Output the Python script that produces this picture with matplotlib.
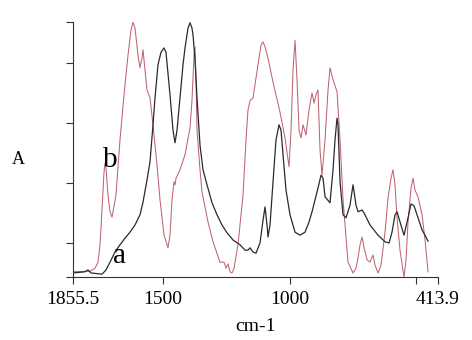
import matplotlib
matplotlib.use("Agg")
import matplotlib.pyplot as plt

# ---- data (wavenumber cm-1, absorbance) ----
wn_b = [1855.5, 1788.4, 1768.6, 1756.8, 1748.9, 1741.0, 1733.1, 1729.1, 1725.2, 1717.3,
        1709.4, 1701.4, 1685.7, 1669.9, 1654.0, 1638.3, 1626.4, 1618.5, 1610.6, 1598.8,
        1590.9, 1583.0, 1579.0, 1571.1, 1563.2, 1551.4, 1539.5, 1523.7, 1511.9, 1496.0,
        1480.3, 1472.4, 1464.4, 1456.6, 1452.6, 1448.6, 1432.9, 1413.1, 1393.3, 1385.5,
        1377.5, 1373.6, 1369.6, 1365.7, 1353.9, 1346.0, 1322.3, 1302.5, 1274.9, 1259.1,
        1251.2, 1243.2, 1235.4, 1227.4, 1219.5, 1203.8, 1184.0, 1172.2, 1164.3, 1156.4,
        1144.5, 1124.8, 1112.9, 1105.0, 1097.1, 1085.3, 1065.5, 1037.9, 1018.1, 1002.3,
        994.4, 986.5, 978.6, 970.7, 962.8, 954.9, 947.0, 935.2, 923.3, 911.5,
        903.6, 895.7, 887.8, 879.9, 871.9, 860.1, 848.3, 840.4, 828.5, 812.7,
        800.8, 789.0, 769.3, 749.5, 737.7, 729.8, 721.9, 713.9, 706.0, 694.2,
        682.4, 670.5, 662.6, 650.8, 638.9, 623.1, 611.3, 599.4, 591.5, 583.6,
        575.7, 563.9, 548.1, 540.2, 532.2, 520.4, 512.5, 504.6, 492.8, 477.0,
        465.1, 453.3]
abs_b = [0.052, 0.053, 0.058, 0.068, 0.097, 0.155, 0.218, 0.233, 0.225, 0.180,
         0.152, 0.143, 0.180, 0.272, 0.347, 0.413, 0.455, 0.468, 0.458, 0.413,
         0.392, 0.408, 0.422, 0.388, 0.355, 0.342, 0.297, 0.230, 0.172, 0.113,
         0.092, 0.113, 0.172, 0.202, 0.197, 0.208, 0.222, 0.247, 0.292, 0.338,
         0.413, 0.427, 0.372, 0.288, 0.222, 0.185, 0.135, 0.102, 0.068, 0.068,
         0.058, 0.065, 0.052, 0.050, 0.058, 0.097, 0.180, 0.272, 0.322, 0.337,
         0.342, 0.397, 0.430, 0.435, 0.427, 0.408, 0.368, 0.318, 0.275, 0.227,
         0.288, 0.388, 0.438, 0.372, 0.288, 0.275, 0.297, 0.280, 0.322, 0.350,
         0.333, 0.347, 0.355, 0.255, 0.213, 0.272, 0.355, 0.392, 0.372, 0.352,
         0.272, 0.172, 0.068, 0.050, 0.058, 0.075, 0.097, 0.110, 0.092, 0.072,
         0.068, 0.080, 0.063, 0.050, 0.063, 0.118, 0.175, 0.208, 0.222, 0.197,
         0.142, 0.088, 0.043, 0.072, 0.135, 0.192, 0.208, 0.188, 0.177, 0.147,
         0.105, 0.052]

wn_a = [1855.5, 1808.1, 1796.3, 1784.4, 1741.0, 1725.2, 1709.4, 1689.6, 1669.9, 1650.1,
        1630.4, 1610.6, 1590.9, 1579.0, 1563.2, 1551.4, 1539.5, 1531.6, 1519.8, 1507.9,
        1496.0, 1488.2, 1472.4, 1460.5, 1452.6, 1444.7, 1432.9, 1421.0, 1413.1, 1401.3,
        1393.3, 1385.5, 1381.5, 1373.6, 1365.7, 1353.9, 1342.0, 1326.2, 1306.5, 1286.7,
        1267.0, 1247.2, 1223.5, 1195.9, 1176.1, 1164.3, 1156.4, 1144.5, 1132.7, 1116.9,
        1105.0, 1097.1, 1089.2, 1085.3, 1077.4, 1065.5, 1053.7, 1041.8, 1033.9, 1026.0,
        1014.2, 998.4, 978.6, 958.9, 939.1, 923.3, 911.5, 891.7, 875.9, 868.0,
        860.1, 840.4, 828.5, 820.6, 812.7, 808.8, 800.8, 789.0, 777.2, 761.4,
        749.5, 737.7, 729.8, 713.9, 706.0, 682.4, 650.8, 623.1, 607.3, 595.5,
        583.6, 575.7, 563.9, 548.1, 532.2, 520.4, 508.6, 492.8, 477.0, 465.1,
        453.3]
abs_a = [0.050, 0.052, 0.055, 0.050, 0.048, 0.055, 0.068, 0.085, 0.097, 0.108,
         0.118, 0.130, 0.147, 0.168, 0.205, 0.235, 0.297, 0.342, 0.397, 0.418,
         0.425, 0.418, 0.347, 0.288, 0.267, 0.288, 0.342, 0.397, 0.425, 0.458,
         0.467, 0.458, 0.447, 0.405, 0.342, 0.263, 0.222, 0.197, 0.167, 0.147,
         0.130, 0.117, 0.105, 0.097, 0.088, 0.088, 0.092, 0.085, 0.083, 0.100,
         0.138, 0.160, 0.130, 0.110, 0.130, 0.202, 0.272, 0.297, 0.288, 0.247,
         0.188, 0.147, 0.118, 0.113, 0.118, 0.135, 0.152, 0.185, 0.213, 0.208,
         0.177, 0.167, 0.222, 0.272, 0.308, 0.297, 0.202, 0.147, 0.142, 0.163,
         0.197, 0.163, 0.152, 0.155, 0.150, 0.130, 0.113, 0.102, 0.100, 0.118,
         0.147, 0.152, 0.135, 0.113, 0.142, 0.165, 0.162, 0.142, 0.122, 0.113,
         0.103]

x_ticks = [1855.5, 1500, 1000, 500, 413.9]
x_tick_labels = ["1855.5", "1500", "1000", "", "413.9"]
y_ticks = [0.0433, 0.1, 0.2, 0.3, 0.4, 0.4683]

plt.rcParams['font.family'] = ['Liberation Serif', 'DejaVu Serif']

fig = plt.figure(figsize=(4.72, 3.40), dpi=100)
ax = fig.add_axes([73/472, 1-277/340, 365/472, 255/340])

ax.plot(wn_b, abs_b, color='#bf6472', lw=0.75)
ax.plot(wn_a, abs_a, color='#2a2a2a', lw=0.9)

ax.set_xlim(1855.5, 413.9)
ax.set_ylim(0.0433, 0.4683)
ax.set_xticks(x_ticks)
ax.set_xticklabels(x_tick_labels, fontsize=14)
ax.set_yticks(y_ticks)
ax.set_yticklabels([])
ax.tick_params(axis='both', direction='out', length=5, width=0.8, color='#333333')
ax.tick_params(axis='x', pad=5)
for s in ['top', 'right']:
    ax.spines[s].set_visible(False)
for s in ['left', 'bottom']:
    ax.spines[s].set_linewidth(0.8)
    ax.spines[s].set_color('#333333')

ax.text(1709.4, 0.227, "b", fontsize=21, ha='center', va='baseline')
ax.text(1673.8, 0.067, "a", fontsize=21, ha='center', va='baseline')

fig.text(18/472, 1-160/340, "A", fontsize=13, ha='center', va='center')
fig.text(256/472, 1-331/340, "cm-1", fontsize=14, ha='center', va='baseline')

fig.savefig("out.png", dpi=100)
